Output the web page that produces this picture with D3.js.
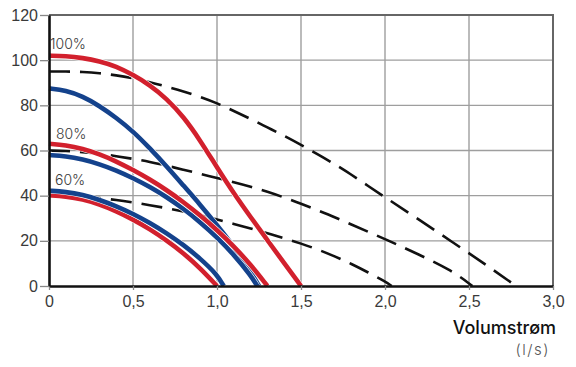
<!DOCTYPE html>
<html>
<head>
<meta charset="utf-8">
<title>Pumpekurver</title>
<script src="https://cdn.jsdelivr.net/npm/d3@7"></script>
<style>
    body { margin: 0; background: #fff; }
    svg { display: block; font-family: Inter, "Open Sans", sans-serif; }
    .grid line { stroke: #9e9e9e; stroke-width: 1.4px; }
    .axis .domain { stroke: #111; stroke-width: 2.6px; }
    .axis .tick line { stroke: #888; stroke-width: 1.3px; }
    .axis .tick text { fill: #3a3a3a; font-size: 16px; font-weight: 300; }
    .frame { stroke: #666; stroke-width: 2px; fill: none; }
    .dashed { fill: none; stroke: #111; stroke-width: 2.6px; stroke-dasharray: 21 10; }
    .casing { fill: none; stroke: #fff; stroke-width: 5.8px; }
    .curve { fill: none; stroke-width: 4.6px; stroke-linejoin: round; }
    .pct { fill: #3a3a3a; font-size: 14px; font-weight: 300; }
</style>
</head>
<body>
<svg width="576" height="367"></svg>
<script>
    // Volumstrøm (l/s) vs trykk (kPa)
    var xTicks = [0, 0.5, 1.0, 1.5, 2.0, 2.5, 3.0];
    var yTicks = [0, 20, 40, 60, 80, 100, 120];
    var speedLabels = ["100%", "80%", "60%"];

    var dash100 = [[0,95],[0.1,95],[0.2,94.8],[0.3,94.3],[0.4,93.3],[0.5,92],[0.6,90.3],[0.7,88.3],[0.8,86.2],[0.9,83.8],[1.0,81],[1.1,77.5],[1.2,74],[1.3,70.2],[1.4,66.5],[1.5,62.5],[1.6,58.3],[1.7,54],[1.8,49.3],[1.9,44.3],[2.0,39.3],[2.2,29.5],[2.4,19.5],[2.6,9.5],[2.78,0]];
    var dash80 = [[0,60],[0.1,59.8],[0.2,59.3],[0.3,58.6],[0.4,57.5],[0.5,56.3],[0.6,55],[0.7,53.3],[0.8,51.5],[0.9,49.7],[1.0,47.8],[1.1,46],[1.2,44],[1.3,41.8],[1.4,39.2],[1.5,36.5],[1.6,33.5],[1.7,30.5],[1.8,27.2],[1.9,24],[2.0,20.8],[2.2,14],[2.4,6.8],[2.52,0]];
    var dash60 = [[0,40],[0.1,39.9],[0.2,39.6],[0.3,39],[0.4,38.1],[0.5,37],[0.6,35.8],[0.7,34.5],[0.8,33],[0.9,31.3],[1.0,29.5],[1.1,27.5],[1.2,25.5],[1.3,23.3],[1.4,21.2],[1.5,18.8],[1.6,16.2],[1.7,13.2],[1.8,9.8],[1.9,6],[2.0,2],[2.04,0]];

    var red100 = [[0,102],[0.1,101.8],[0.2,101],[0.3,99.6],[0.4,97.3],[0.5,93.5],[0.6,89],[0.7,83],[0.8,75],[0.9,64.5],[1.0,52.5],[1.1,41],[1.2,30.5],[1.3,20.3],[1.4,10.1],[1.5,0]];
    var blue100 = [[0,87.5],[0.1,86.6],[0.2,84],[0.3,79.8],[0.4,74.5],[0.5,68.5],[0.6,61],[0.7,53],[0.8,44.5],[0.9,36],[1.0,27],[1.1,17.5],[1.2,6.5],[1.25,0]];
    var red80 = [[0,63],[0.1,62.4],[0.2,60.8],[0.3,58.4],[0.4,55.2],[0.5,51.4],[0.6,47.2],[0.7,42.5],[0.8,37.2],[0.9,31.3],[1.0,24.8],[1.1,17.6],[1.2,9.5],[1.3,0]];
    var blue80 = [[0,58],[0.1,57.5],[0.2,56.1],[0.3,54],[0.4,51.2],[0.5,47.8],[0.6,43.9],[0.7,39.4],[0.8,34.2],[0.9,28.3],[1.0,21.6],[1.1,13.9],[1.2,4.8],[1.24,0]];
    var red60 = [[0,40.2],[0.1,39.7],[0.2,38.4],[0.3,36.2],[0.4,33.2],[0.5,29.5],[0.6,25.2],[0.7,20.2],[0.8,14.6],[0.9,7.9],[1.0,0]];
    var blue60 = [[0,42.2],[0.1,41.7],[0.2,40.4],[0.3,38.2],[0.4,35.4],[0.5,32],[0.6,28],[0.7,23.4],[0.8,18.2],[0.9,12.2],[1.0,5.1],[1.04,0]];

    var svg = d3.select("svg");
    var plotLeft = 49, plotRight = 553, plotTop = 15, plotBottom = 286;

    var x = d3.scaleLinear().domain([0, 3]).range([plotLeft, plotRight]);
    var y = d3.scaleLinear().domain([0, 120]).range([plotBottom, plotTop]);

    // grid
    var grid = svg.append("g").attr("class", "grid");
    grid.selectAll("line.v").data(xTicks.slice(1, -1)).enter().append("line")
        .attr("x1", function (d) { return x(d); }).attr("x2", function (d) { return x(d); })
        .attr("y1", plotTop).attr("y2", plotBottom);
    grid.selectAll("line.h").data(yTicks.slice(1, -1)).enter().append("line")
        .attr("x1", plotLeft).attr("x2", plotRight)
        .attr("y1", function (d) { return y(d); }).attr("y2", function (d) { return y(d); });

    // top and right border
    svg.append("path").attr("class", "frame")
        .attr("d", "M" + plotLeft + "," + y(120) + "H" + x(3) + "V" + plotBottom);

    var line = d3.line()
        .curve(d3.curveBasis)
        .x(function (d) { return x(d[0]); })
        .y(function (d) { return y(d[1]); });

    [dash100, dash80, dash60].forEach(function (s) {
        svg.append("path").attr("class", "dashed").attr("d", line(s));
    });

    var curves = [
        { data: blue100, color: "#14428c" },
        { data: red100, color: "#d2202d" },
        { data: blue80, color: "#14428c" },
        { data: red80, color: "#d2202d" },
        { data: red60, color: "#d2202d" },
        { data: blue60, color: "#14428c" }
    ];
    curves.forEach(function (c) {
        svg.append("path").attr("class", "casing").attr("d", line(c.data));
        svg.append("path").attr("class", "curve").attr("stroke", c.color).attr("d", line(c.data));
    });

    // axes
    var fmt = function (d) { return d === 0 ? "0" : d3.format(".1f")(d).replace(".", ","); };
    svg.append("g").attr("class", "axis")
        .attr("transform", "translate(0," + plotBottom + ")")
        .call(d3.axisBottom(x).tickValues(xTicks).tickFormat(fmt).tickSize(4).tickSizeOuter(0).tickPadding(6));
    svg.append("g").attr("class", "axis")
        .attr("transform", "translate(" + plotLeft + ",0)")
        .call(d3.axisLeft(y).tickValues(yTicks).tickSize(9).tickSizeOuter(0).tickPadding(2));

    // speed labels
    var labelPos = [[50, 49], [56, 139], [55, 185]];
    svg.selectAll("text.pct").data(speedLabels).enter().append("text")
        .attr("class", "pct")
        .attr("x", function (d, i) { return labelPos[i][0]; })
        .attr("y", function (d, i) { return labelPos[i][1]; })
        .text(function (d) { return d; });

    // axis title
    svg.append("text").attr("x", 556).attr("y", 334).attr("text-anchor", "end")
        .attr("fill", "#111").attr("font-size", 18).attr("font-weight", 500).text("Volumstrøm");
    svg.append("text").attr("x", 550).attr("y", 355).attr("text-anchor", "end")
        .attr("fill", "#555").attr("font-size", 15).attr("font-weight", 300)
        .attr("letter-spacing", 1.5).text("(l/s)");
</script>
</body>
</html>
